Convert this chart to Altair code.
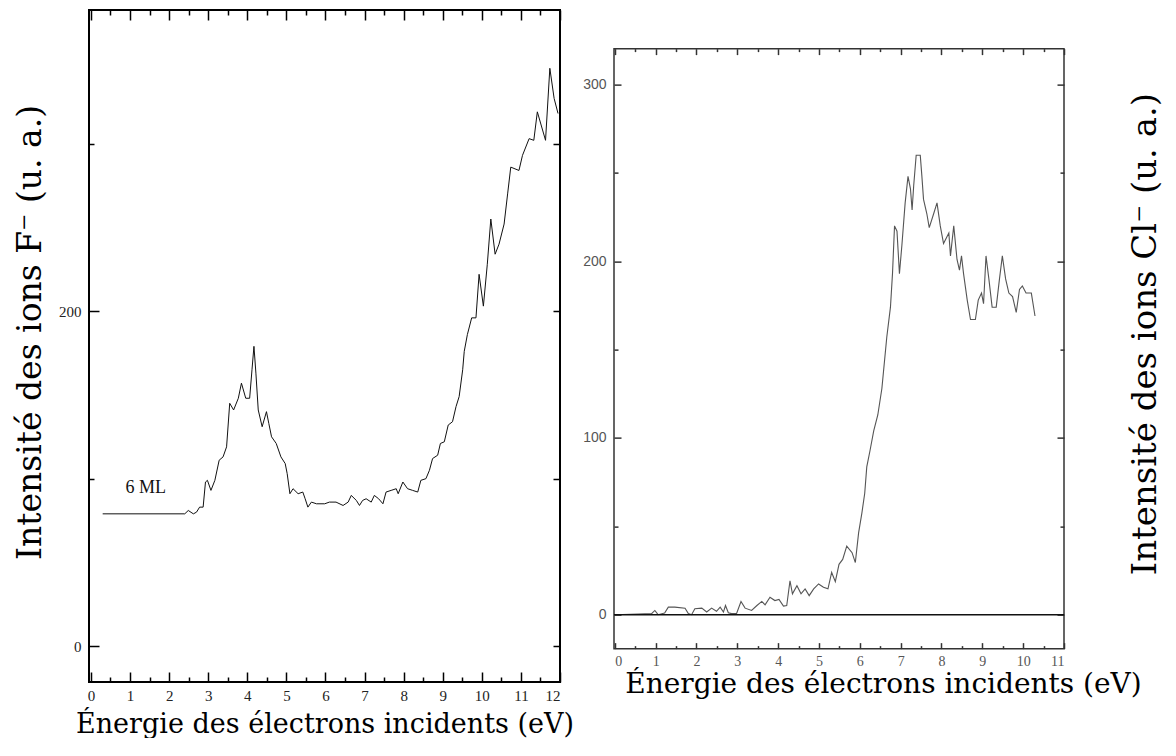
import altair as alt
import pandas as pd

# ---------------- data ----------------
left_energy = [0.3, 2.4, 2.49, 2.62, 2.7, 2.78, 2.87, 2.93, 2.98, 3.07, 3.17, 3.28, 3.38, 3.47,
               3.55, 3.65, 3.77, 3.85, 3.96, 4.06, 4.12, 4.17, 4.22, 4.28, 4.38, 4.49, 4.55, 4.62,
               4.74, 4.86, 4.97, 5.02, 5.09, 5.17, 5.3, 5.42, 5.48, 5.55, 5.64, 5.77, 5.98, 6.1,
               6.27, 6.45, 6.58, 6.66, 6.79, 6.87, 6.95, 7.04, 7.17, 7.25, 7.36, 7.47, 7.55, 7.68,
               7.81, 7.86, 7.98, 8.1, 8.23, 8.36, 8.44, 8.57, 8.66, 8.74, 8.87, 8.94, 9.04, 9.14,
               9.25, 9.34, 9.42, 9.51, 9.55, 9.63, 9.74, 9.85, 9.93, 10.04, 10.14, 10.23, 10.34,
               10.44, 10.57, 10.66, 10.74, 10.95, 11.04, 11.21, 11.33, 11.42, 11.63, 11.74, 11.85,
               11.95]
left_intensity = [79, 79, 81, 79, 80, 83, 83, 98, 99, 93, 99, 111, 113, 119,
                  145, 141, 148, 157, 148, 148, 165, 179, 163, 141, 131, 140, 133, 125,
                  121, 113, 109, 103, 91, 94, 91, 92, 88, 83, 86, 85, 85, 86,
                  86, 84, 86, 90, 87, 84, 87, 88, 86, 90, 88, 85, 92, 93,
                  94, 91, 98, 94, 93, 92, 99, 100, 105, 112, 114, 121, 122, 132,
                  134, 143, 149, 165, 176, 186, 196, 196, 222, 203, 228, 255, 234,
                  240, 252, 270, 286, 284, 293, 303, 302, 319, 302, 345, 327,
                  318]

right_energy = [0, 0.57, 0.9, 0.98, 1.06, 1.22, 1.31, 1.47, 1.72, 1.8, 1.88, 1.96, 2.13, 2.25,
                2.37, 2.49, 2.58, 2.66, 2.71, 2.78, 2.86, 2.98, 3.09, 3.19, 3.35, 3.48, 3.6, 3.68,
                3.8, 3.92, 4.02, 4.13, 4.21, 4.29, 4.35, 4.46, 4.56, 4.66, 4.76, 4.87, 4.99, 5.11,
                5.22, 5.31, 5.4, 5.49, 5.58, 5.68, 5.81, 5.89, 5.97, 6.05, 6.12, 6.17, 6.25, 6.34,
                6.44, 6.54, 6.66, 6.75, 6.8, 6.85, 6.91, 6.97, 7.03, 7.11, 7.18, 7.24, 7.28, 7.32,
                7.38, 7.48, 7.52, 7.56, 7.64, 7.7, 7.81, 7.89, 7.97, 8.05, 8.18, 8.22, 8.3, 8.38,
                8.44, 8.49, 8.54, 8.63, 8.71, 8.83, 8.9, 8.98, 9.03, 9.09, 9.16, 9.24, 9.34, 9.42,
                9.49, 9.57, 9.65, 9.74, 9.83, 9.91, 9.98, 10.07, 10.2, 10.29]
right_intensity = [0, 0.4, 0.6, 2.4, 0, 1, 4.3, 4.3, 3.7, 0.6, 0, 3.4, 3.7, 1.5,
                   3.7, 1.9, 4.3, 1.5, 5.2, 1.1, 0.6, 0.6, 7.5, 3.7, 2.4, 5.2, 7.5, 5.6,
                   9.9, 8, 8.6, 4.9, 5.2, 19.2, 11.8, 16.4, 11.8, 14.6, 10.8, 14.6, 17.4, 15.5,
                   14.6, 23.9, 18.7, 28.5, 31.3, 38.8, 35.1, 29.5, 46.3, 57.5, 68.7, 83.6, 92.9, 104,
                   113, 128, 157, 174, 193, 220, 217, 193, 209, 233, 248, 241, 229, 243,
                   260, 260, 248, 235, 227, 219, 227, 233, 220, 210, 216, 203, 220, 201,
                   195, 203, 193, 178, 167, 167, 178, 182, 176, 203, 190, 174, 174, 190,
                   203, 190, 182, 180, 171, 184, 186, 182, 182, 169]

left_x_major = [0, 1, 2, 3, 4, 5, 6, 7, 8, 9, 10, 11, 12]
left_x_minor = [0.5, 1.5, 2.5, 3.5, 4.5, 5.5, 6.5, 7.5, 8.5, 9.5, 10.5, 11.5]
left_y_labeled = [0, 200]
left_y_minor = [100, 300]
left_y_right = [0, 100, 200, 300]

right_x_major = [0, 1, 2, 3, 4, 5, 6, 7, 8, 9, 10, 11]
right_x_minor = [0.5, 1.5, 2.5, 3.5, 4.5, 5.5, 6.5, 7.5, 8.5, 9.5, 10.5]
right_y_major = [0, 100, 200, 300]
right_y_minor = [50, 150, 250]
right_baseline = [0]

note_x = [1.4]
note_y = [89]
note_text = ["6 ML"]

x_title = "Énergie des électrons incidents (eV)"
left_y_title = "Intensité des ions F⁻ (u. a.)"
right_y_title = "Intensité des ions Cl⁻ (u. a.)"

TITLE_FONT = "DejaVu Serif"
LABEL_FONT = "Liberation Serif"

df_l = pd.DataFrame({"E": left_energy, "I": left_intensity})
df_r = pd.DataFrame({"E": right_energy, "I": right_intensity})
df_note = pd.DataFrame({"E": note_x, "I": note_y, "t": note_text})
df_base = pd.DataFrame({"I": right_baseline})


def inward(orient, values, size, color, width, labels=False, **kw):
    kw.setdefault("title", None)
    return alt.Axis(orient=orient, values=values, tickSize=size, offset=-size,
                    labels=labels, domain=False, grid=False, ticks=True,
                    tickColor=color, tickWidth=width, **kw)


# ---------------- left panel ----------------
xs_l = alt.Scale(domain=[-0.05, 12.0], nice=False, zero=False)
ys_l = alt.Scale(domain=[-21.4, 379.8], nice=False, zero=False)
LC = "black"

l1 = alt.Chart(df_l).mark_line(color="#111111", strokeWidth=1).encode(
    x=alt.X("E:Q", scale=xs_l,
            axis=inward("bottom", left_x_major, 10, LC, 1.5, labels=True,
                        labelPadding=6, labelFont=LABEL_FONT, labelFontSize=15,
                        labelColor="#222222", title=x_title, titleFont=TITLE_FONT,
                        titleFontSize=27, titleFontWeight="normal", titleColor="black",
                        titlePadding=8)),
    y=alt.Y("I:Q", scale=ys_l,
            axis=inward("left", left_y_labeled, 10, LC, 1.5, labels=True,
                        labelPadding=8, labelFont=LABEL_FONT, labelFontSize=15,
                        labelColor="#222222", title=left_y_title, titleFont=TITLE_FONT,
                        titleFontSize=33, titleFontWeight="normal", titleColor="black",
                        titlePadding=11, titleY=322)),
)
l2 = alt.Chart(df_l).mark_line(strokeOpacity=0).encode(
    x=alt.X("E:Q", scale=xs_l, axis=inward("bottom", left_x_minor, 5, LC, 1.5)),
    y=alt.Y("I:Q", scale=ys_l, axis=inward("left", left_y_minor, 5, LC, 1.5)),
)
l3 = alt.Chart(df_l).mark_line(strokeOpacity=0).encode(
    x=alt.X("E:Q", scale=xs_l, axis=inward("top", left_x_major, 10, LC, 1.5)),
    y=alt.Y("I:Q", scale=ys_l, axis=inward("right", left_y_right, 7, LC, 1.5)),
)
l4 = alt.Chart(df_l).mark_line(strokeOpacity=0).encode(
    x=alt.X("E:Q", scale=xs_l, axis=inward("top", left_x_minor, 5, LC, 1.5)),
    y=alt.Y("I:Q", scale=ys_l, axis=None),
)
l5 = alt.Chart(df_note).mark_text(font=LABEL_FONT, fontSize=18, color="#111111",
                                  baseline="bottom").encode(
    x=alt.X("E:Q", scale=xs_l, axis=None),
    y=alt.Y("I:Q", scale=ys_l, axis=None),
    text="t:N",
)
left = (
    alt.layer(l1, l2, l3, l4, l5)
    .resolve_axis(x="independent", y="independent")
    .properties(width=471, height=672,
                view=alt.ViewBackground(stroke="black", strokeWidth=2))
)

# ---------------- right panel ----------------
xs_r = alt.Scale(domain=[-0.02, 11.0], nice=False, zero=False)
ys_r = alt.Scale(domain=[-19.2, 320.3], nice=False, zero=False)
RC = "#333333"

r1 = alt.Chart(df_r).mark_line(color="#555555", strokeWidth=1.1).encode(
    x=alt.X("E:Q", scale=xs_r,
            axis=inward("bottom", right_x_major, 6, RC, 1.5, labels=True,
                        labelPadding=6, labelFont=LABEL_FONT, labelFontSize=14,
                        labelColor="#555555", title=x_title, titleFont=TITLE_FONT,
                        titleFontSize=28, titleFontWeight="normal", titleColor="black",
                        titlePadding=2, titleX=269, titleAlign="center")),
    y=alt.Y("I:Q", scale=ys_r,
            axis=inward("left", right_y_major, 7, RC, 1.5, labels=True,
                        labelPadding=8, labelFont="Liberation Sans", labelFontSize=14,
                        labelColor="#555555")),
)
r2 = alt.Chart(df_r).mark_line(strokeOpacity=0).encode(
    x=alt.X("E:Q", scale=xs_r, axis=inward("bottom", right_x_minor, 3, RC, 1.5)),
    y=alt.Y("I:Q", scale=ys_r, axis=inward("left", right_y_minor, 4, RC, 1.5)),
)
r3 = alt.Chart(df_r).mark_line(strokeOpacity=0).encode(
    x=alt.X("E:Q", scale=xs_r, axis=inward("top", right_x_major, 6, RC, 1.5)),
    y=alt.Y("I:Q", scale=ys_r,
            axis=inward("right", right_y_major, 7, RC, 1.5, title=right_y_title,
                        titleFont=TITLE_FONT, titleFontSize=34, titleFontWeight="normal",
                        titleColor="black", titleAngle=270, titlePadding=98,
                        titleY=285)),
)
r4 = alt.Chart(df_r).mark_line(strokeOpacity=0).encode(
    x=alt.X("E:Q", scale=xs_r, axis=inward("top", right_x_minor, 3, RC, 1.5)),
    y=alt.Y("I:Q", scale=ys_r, axis=inward("right", right_y_minor, 4, RC, 1.5)),
)
r5 = alt.Chart(df_base).mark_rule(color="#111111", strokeWidth=1.5).encode(
    y=alt.Y("I:Q", scale=ys_r, axis=None),
)
right = (
    alt.layer(r1, r2, r3, r4, r5)
    .resolve_axis(x="independent", y="independent")
    .properties(width=450, height=600,
                view=alt.ViewBackground(stroke="#333333", strokeWidth=1.5))
)

chart = alt.hconcat(left, right, spacing=6, center=True).properties(
    padding={"left": 5, "top": 0, "right": 0, "bottom": 0}, background="white"
)

chart.save("out.html", embed_options={"renderer": "svg", "actions": False})
